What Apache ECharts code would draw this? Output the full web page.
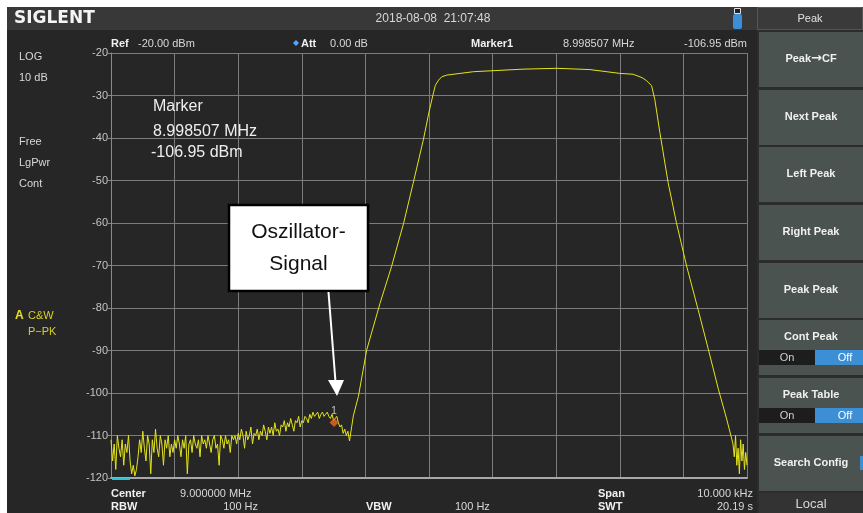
<!DOCTYPE html>
<html>
<head>
<meta charset="utf-8">
<script src="https://cdn.jsdelivr.net/npm/echarts@6/dist/echarts.min.js"></script>
<style>
html,body{margin:0;padding:0;background:#fff;}
#c{width:863px;height:513px;}
</style>
</head>
<body>
<div id="c"></div>
<script>
// Spectrum: center 9.000000 MHz, span 10 kHz; x values are kHz offset from center
const levelTicks = [-120, -110, -100, -90, -80, -70, -60, -50, -40, -30, -20];

// noise floor below the filter, one reading per sweep point
const noiseStartKHz = -5.0;
const noiseStepKHz = 0.025;
const noiseLevels = [
  -111,-116,-112,-118,-110,-113,-115,-111,-117,-112,-114,-110,-116,
  -119,-117,-119.5,-118,-115,
  -111,-114,-109,-113,-116,-110,-112,-119,-111,-114,-108.5,-113,-115,-110,-112,-117,-111,-113,-110,-115,-112,-114,-111,
  -113,-110,-112,-115,-111,-113,-110,-119,-112,-111,-114,-110,-112,-113,-111,-115,-110,-112,-111,-113,-110,-112,-114,-111,-110,-113,-112,-117,-110,-111,-113,-110,-112,-111,-114,-110,-111,
  -110,-112,-109.5,-111,-108.5,-110,-113,-109,-111,-110,-108,-112,-109.5,-110,-108.5,-111,-109,-110,-107.5,-109,-111,-108,-109.5,-108,-110,-107,-109,-108.5,-110,-107.5,
  -108,-106.5,-109,-107,-108,-106,-107.5,-109,-106.5,-107,-105.5,-108,-106.5,-107,-105.5,-106,-107,
  -105,-106,-104.5,-105.5,-105,-104.5,-106,-105,-104.5,-105.5,-105,-104.5,-105.5,-106,-105,-106.5,
  -106,-105.5,-107,-108,-107.5,-109.5,-108.5,-110,-109,-111.3
];

// filter passband and skirts
const passbandFreqs = [-1.19,-1.11,-0.98,-0.77,-0.59,-0.40,-0.25,-0.09,0.00,0.06,0.10,0.15,0.20,0.28,0.70,1.48,2.01,2.53,3.00,3.21,3.35,3.42,3.50,3.55,3.63,3.76,3.89,4.05,4.23,4.39,4.55,4.68,4.76];
const passbandLevels = [-105.4,-100.8,-89.9,-78.9,-70.3,-60.1,-50.7,-40.5,-33.9,-30.0,-27.6,-26.4,-25.6,-25.2,-24.4,-23.8,-23.6,-23.9,-24.8,-25.0,-25.8,-26.5,-27.7,-30.9,-38.7,-50.5,-59.9,-70.1,-80.3,-89.6,-99.1,-106.1,-110.8];

// noise above the upper skirt
const tailFreqs = [4.78,4.80,4.82,4.84,4.86,4.88,4.90,4.92,4.94,4.96,4.98,5.00];
const tailLevels = [-112,-115,-110,-117,-113,-119,-111,-116,-112,-118,-114,-117];

// Marker 1: 8.998507 MHz, -106.95 dBm
const markerFreqKHz = -1.493;
const markerLevel = -106.95;

const trace = [];
noiseLevels.forEach((v, i) => trace.push([noiseStartKHz + i * noiseStepKHz, v]));
passbandFreqs.forEach((f, i) => trace.push([f, passbandLevels[i]]));
tailFreqs.forEach((f, i) => trace.push([f, tailLevels[i]]));

const UI = '"Liberation Sans", Arial, sans-serif';
const txt = (x, y, s, o) => Object.assign({
  type: 'text', z: 50, x: x, y: y,
  style: Object.assign({ text: s, fill: '#d8d8d8', font: '11px ' + UI, textVerticalAlign: 'middle' }, o || {})
});
const bold = (x, y, s, o) => txt(x, y, s, Object.assign({ font: 'bold 11px ' + UI, fill: '#f0f0f0' }, o || {}));

const graphics = [
  // frame edges
  { type: 'rect', z: 60, shape: { x: 0, y: 0, width: 863, height: 7 }, style: { fill: '#ffffff' } },
  { type: 'rect', z: 60, shape: { x: 0, y: 0, width: 7, height: 513 }, style: { fill: '#ffffff' } },
  // title bar
  { type: 'rect', z: 40, shape: { x: 7, y: 7, width: 750, height: 23 }, style: { fill: '#383838' } },
  txt(14, 19, 'SIGLENT', { font: 'bold 17px "DejaVu Sans", sans-serif', fill: '#f4f4f4' }),
  txt(433, 19, '2018-08-08  21:07:48', { font: '12px ' + UI, textAlign: 'center', fill: '#d8d8d8' }),
  { type: 'rect', z: 45, shape: { x: 733, y: 14, width: 9, height: 15, r: 2 }, style: { fill: '#3b8fd8' } },
  { type: 'rect', z: 45, shape: { x: 734.5, y: 8.5, width: 6, height: 5 }, style: { fill: '#222', stroke: '#e0e0e0', lineWidth: 1 } },

  // right soft-key panel
  { type: 'rect', z: 40, shape: { x: 757, y: 30, width: 106, height: 483 }, style: { fill: '#2c2c2c' } },
  { type: 'rect', z: 41, shape: { x: 757.5, y: 7.5, width: 105, height: 22 }, style: { fill: '#3a3a3a', stroke: '#555', lineWidth: 1 } },
  txt(810, 19, 'Peak', { textAlign: 'center', fill: '#e0e0e0' })
];

const keys = [
  { top: 32, label: 'Peak\u2192CF', arrow: true },
  { top: 90, label: 'Next Peak' },
  { top: 147, label: 'Left Peak' },
  { top: 205, label: 'Right Peak' },
  { top: 263, label: 'Peak Peak' },
  { top: 320, label: 'Cont Peak', toggle: true },
  { top: 378, label: 'Peak Table', toggle: true },
  { top: 436, label: 'Search Config' }
];
keys.forEach(k => {
  graphics.push({ type: 'rect', z: 42, shape: { x: 759, y: k.top, width: 104, height: 55 }, style: { fill: '#4b5351' } });
  if (k.toggle) {
    graphics.push(bold(811, k.top + 17, k.label, { textAlign: 'center' }));
    graphics.push({ type: 'rect', z: 43, shape: { x: 759, y: k.top + 30, width: 56, height: 15 }, style: { fill: '#1d1d1d' } });
    graphics.push({ type: 'rect', z: 43, shape: { x: 815, y: k.top + 30, width: 48, height: 15 }, style: { fill: '#3d8fd5' } });
    graphics.push(txt(787, k.top + 38, 'On', { textAlign: 'center', fill: '#d0d0d0' }));
    graphics.push(txt(845, k.top + 38, 'Off', { textAlign: 'center', fill: '#ffffff' }));
  } else if (k.arrow) {
    const parts = k.label.split('\u2192');
    graphics.push(bold(811, k.top + 27, '{a|' + parts[0] + '}{b|\u2192}{a|' + parts[1] + '}', {
      textAlign: 'center',
      rich: {
        a: { font: 'bold 11px ' + UI, fill: '#f0f0f0' },
        b: { font: 'bold 13px "DejaVu Sans", sans-serif', fill: '#f0f0f0' }
      }
    }));
  } else {
    graphics.push(bold(811, k.top + 27, k.label, { textAlign: 'center' }));
  }
});
graphics.push({ type: 'rect', z: 43, shape: { x: 860, y: 456, width: 3, height: 14 }, style: { fill: '#3d8fd5' } });
graphics.push({ type: 'rect', z: 42, shape: { x: 759, y: 493, width: 104, height: 20 }, style: { fill: '#333333' } });
graphics.push(txt(811, 504, 'Local', { textAlign: 'center', font: '13px ' + UI, fill: '#d8d8d8' }));

// left status column
graphics.push(
  txt(19, 57, 'LOG'), txt(19, 78, '10 dB'),
  txt(19, 142, 'Free'), txt(19, 163, 'LgPwr'), txt(19, 184, 'Cont'),
  bold(15, 316, 'A', { fill: '#e8e020', font: 'bold 12px ' + UI }),
  txt(28, 316, 'C&W', { fill: '#d8d020' }),
  txt(28, 332, 'P\u2212PK', { fill: '#d8d020' })
);

// header line above the graticule
graphics.push(
  bold(111, 44, 'Ref'), txt(138, 44, '-20.00 dBm'),
  { type: 'polygon', z: 50, shape: { points: [[296, 40], [299, 43], [296, 46], [293, 43]] }, style: { fill: '#4aa8ff' } },
  bold(301, 44, 'Att'), txt(330, 44, '0.00 dB'),
  bold(471, 44, 'Marker1'), txt(563, 44, '8.998507 MHz'),
  txt(747, 44, '-106.95 dBm', { textAlign: 'right' })
);

// footer settings
graphics.push(
  bold(111, 494, 'Center'), txt(180, 494, '9.000000 MHz'),
  bold(111, 507, 'RBW'), txt(258, 507, '100 Hz', { textAlign: 'right' }),
  bold(366, 507, 'VBW'), txt(455, 507, '100 Hz'),
  bold(598, 494, 'Span'), txt(753, 494, '10.000 kHz', { textAlign: 'right' }),
  bold(598, 507, 'SWT'), txt(753, 507, '20.19 s', { textAlign: 'right' }),
  { type: 'rect', z: 50, shape: { x: 112, y: 478, width: 18, height: 2 }, style: { fill: '#2ec4d4' } }
);

// marker readout inside the graticule
graphics.push(
  txt(153, 107, 'Marker', { font: '16px ' + UI, fill: '#eeeeee' }),
  txt(153, 132, '8.998507 MHz', { font: '16px ' + UI, fill: '#eeeeee' }),
  txt(151, 153, '-106.95 dBm', { font: '16px ' + UI, fill: '#eeeeee' })
);

// callout for the oscillator leakage
graphics.push(
  { type: 'rect', z: 70, shape: { x: 229, y: 205, width: 139, height: 86 }, style: { fill: '#ffffff', stroke: '#000000', lineWidth: 2.5 } },
  Object.assign(txt(298.5, 232, 'Oszillator-', { font: '21px ' + UI, fill: '#111', textAlign: 'center' }), { z: 75 }),
  Object.assign(txt(298.5, 264, 'Signal', { font: '21px ' + UI, fill: '#111', textAlign: 'center' }), { z: 75 }),
  { type: 'line', z: 70, shape: { x1: 328.5, y1: 292, x2: 335.5, y2: 382 }, style: { stroke: '#ffffff', lineWidth: 2 } },
  { type: 'polygon', z: 70, shape: { points: [[328, 380], [344, 380], [337, 396]] }, style: { fill: '#ffffff' } }
);

const chart = echarts.init(document.getElementById('c'), null, { renderer: 'canvas' });
chart.setOption({
  backgroundColor: '#262626',
  animation: false,
  grid: { left: 111, top: 53, width: 636, height: 425, containLabel: false },
  xAxis: {
    type: 'value', min: -5, max: 5, interval: 1,
    axisLine: { show: true, onZero: false, lineStyle: { color: '#a8a8a8', width: 2 } },
    axisTick: { show: false }, axisLabel: { show: false },
    splitLine: { show: true, lineStyle: { color: '#7c7c7c', width: 1 } }
  },
  yAxis: {
    type: 'value', min: levelTicks[0], max: levelTicks[levelTicks.length - 1], interval: 10,
    axisLine: { show: true, onZero: false, lineStyle: { color: '#8a8a8a', width: 1 } },
    axisTick: { show: true, length: 3, inside: false, lineStyle: { color: '#8a8a8a' } },
    axisLabel: { color: '#c4c4c4', fontSize: 11, fontFamily: UI, margin: 3 },
    splitLine: { show: true, lineStyle: { color: '#7c7c7c', width: 1 } }
  },
  series: [
    {
      type: 'line', data: trace, showSymbol: false, symbol: 'none',
      lineStyle: { color: '#e4e41c', width: 1 }, z: 3
    },
    {
      type: 'scatter', data: [[markerFreqKHz, markerLevel]], symbol: 'diamond', symbolSize: 9,
      itemStyle: { color: '#f06a20' }, z: 4,
      label: { show: true, formatter: '1', position: 'top', distance: 2, color: '#eeeeee', fontSize: 10, fontFamily: UI }
    }
  ],
  graphic: graphics
});
</script>
</body>
</html>
